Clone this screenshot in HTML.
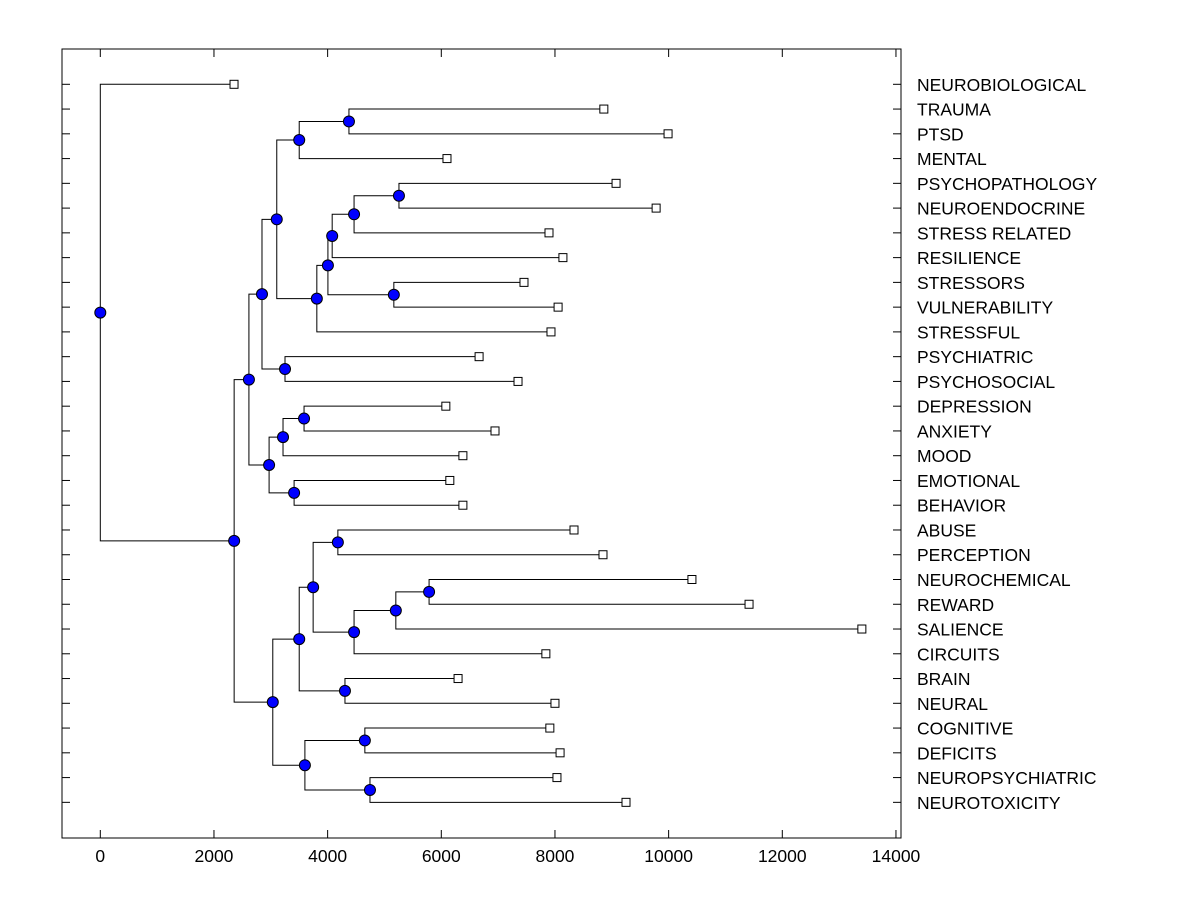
<!DOCTYPE html>
<html><head><meta charset="utf-8"><style>
html,body{margin:0;padding:0;background:#fff;}
svg{display:block;font-family:"Liberation Sans",Arial,sans-serif;}
</style></head><body>
<svg id="chart" width="1200" height="900" viewBox="0 0 1200 900">
<rect x="62" y="49" width="839" height="789" fill="none" stroke="#000" stroke-width="1"/>
<g id="axes"></g><g id="tree"></g><g id="marks"></g>
</svg>
<script>
const leafLabels = ["NEUROBIOLOGICAL","TRAUMA","PTSD","MENTAL","PSYCHOPATHOLOGY","NEUROENDOCRINE","STRESS RELATED","RESILIENCE","STRESSORS","VULNERABILITY","STRESSFUL","PSYCHIATRIC","PSYCHOSOCIAL","DEPRESSION","ANXIETY","MOOD","EMOTIONAL","BEHAVIOR","ABUSE","PERCEPTION","NEUROCHEMICAL","REWARD","SALIENCE","CIRCUITS","BRAIN","NEURAL","COGNITIVE","DEFICITS","NEUROPSYCHIATRIC","NEUROTOXICITY"];
const leafValues = [2353,8860,9990,6100,9075,9780,7895,8140,7455,8055,7930,6665,7350,6080,6945,6380,6150,6380,8335,8845,10410,11415,13400,7840,6295,8000,7910,8090,8035,9250];
// merges: children refer to leaves as "L#" and internal nodes as "N#"
const mergeA = ["L1","N1","L4","N3","N4","L8","N5","N7","N2","L11","N9","L13","N12","L16","N13","N11","L18","L20","N18","N19","N17","L24","N21","L26","L28","N24","N23","N16","L0"];
const mergeB = ["L2","L3","L5","L6","L7","L9","N6","L10","N8","L12","N10","L14","L15","L17","N14","N15","L19","L21","L22","L23","N20","L25","N22","L27","L29","N25","N26","N27","N28"];
const mergeHeights = [4375,3500,5255,4465,4080,5165,4005,3810,3105,3250,2845,3585,3215,3410,2970,2615,4180,5785,5200,4465,3745,4305,3500,4655,4745,3600,3035,2355,0];
const xTicks = [0,2000,4000,6000,8000,10000,12000,14000];

const NS="http://www.w3.org/2000/svg";
const X0=100.3, PX=0.056833;
const xs=v=>X0+v*PX;
const Y0=84.3, DY=24.76;
const ys=i=>Y0+i*DY;
function mk(tag,attrs,parent){const e=document.createElementNS(NS,tag);for(const k in attrs)e.setAttribute(k,attrs[k]);parent.appendChild(e);return e;}
const axes=document.getElementById('axes'),tree=document.getElementById('tree'),marks=document.getElementById('marks');

xTicks.forEach(t=>{
  const x=xs(t);
  const a=mk('line',{x1:x,x2:x,y1:838,y2:830,stroke:'#000'},axes);
  
  
  const b=mk('line',{x1:x,x2:x,y1:49,y2:57,stroke:'#000'},axes);
  
  
  const tx=mk('text',{x:x,y:862,'text-anchor':'middle','font-size':17.5,fill:'#000'},axes);
  tx.textContent=t;
  
  
});
leafLabels.forEach((lab,i)=>{
  const y=ys(i);
  const a=mk('line',{x1:62,x2:70,y1:y,y2:y,stroke:'#000'},axes);
  
  
  const b=mk('line',{x1:893,x2:901,y1:y,y2:y,stroke:'#000'},axes);
  
  
  const t=mk('text',{x:917,y:y+6.5,'font-size':17.5,fill:'#000'},axes);
  t.textContent=lab;
  
  
});

const nodes=[];
function pos(ref){const i=+ref.slice(1);if(ref[0]==='L')return {x:xs(leafValues[i]),y:ys(i)};return nodes[i-1];}
for(let k=0;k<mergeA.length;k++){
  const a=pos(mergeA[k]),b=pos(mergeB[k]);
  const x=xs(mergeHeights[k]);
  const p=`M${a.x},${a.y}H${x}V${b.y}H${b.x}`;
  const pa=mk('path',{d:p,fill:'none',stroke:'#000','stroke-width':1},tree);
  
  
  nodes.push({x:x,y:(a.y+b.y)/2});
}
leafValues.forEach((v,i)=>{
  const r=mk('rect',{x:xs(v)-4,y:ys(i)-4,width:8,height:8,fill:'#fff',stroke:'#000'},marks);
  
  
});
nodes.forEach(n=>{
  const c=mk('circle',{cx:n.x,cy:n.y,r:5.5,fill:'#0000ff',stroke:'#000','stroke-width':1},marks);
  
  
});
</script>
</body></html>
